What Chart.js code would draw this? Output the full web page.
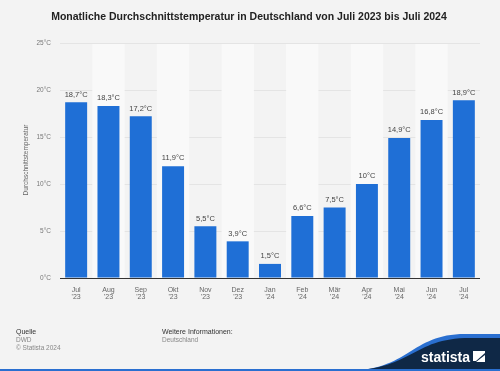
<!DOCTYPE html>
<html><head><meta charset="utf-8">
<script src="https://cdn.jsdelivr.net/npm/chart.js@4/dist/chart.umd.min.js"></script>
<style>html,body{margin:0;padding:0;background:#f3f3f3;}#wrap{width:500px;height:371px;position:relative;}</style>
</head><body><div id="wrap"><canvas id="c" width="500" height="371"></canvas></div>
<script>
const months = ["Jul","Aug","Sep","Okt","Nov","Dez","Jan","Feb","Mär","Apr","Mai","Jun","Jul"];
const years = ["'23","'23","'23","'23","'23","'23","'24","'24","'24","'24","'24","'24","'24"];
const temps = [18.7,18.3,17.2,11.9,5.5,3.9,1.5,6.6,7.5,10,14.9,16.8,18.9];
const yTicks = [0,5,10,15,20,25];
const titleText = "Monatliche Durchschnittstemperatur in Deutschland von Juli 2023 bis Juli 2024";
const yTitle = "Durchschnittstemperatur";

const FONT = "Helvetica, 'Liberation Sans', Arial, sans-serif";
const fmt = v => String(v).replace('.', ',') + '°C';

const deco = {
  id: 'deco',
  beforeDatasetsDraw(chart) {
    const {ctx, chartArea: a} = chart;
    ctx.save();
    ctx.fillStyle = '#f9f9f9';
    const w = (a.right - a.left) / months.length;
    for (let i = 1; i < months.length; i += 2) {
      ctx.fillRect(a.left + i * w, a.top + 1, w, a.bottom - a.top - 1);
    }
    ctx.restore();
  },
  afterDatasetsDraw(chart) {
    const {ctx, chartArea: a, scales: {x, y}} = chart;
    ctx.save();
    ctx.strokeStyle = '#333';
    ctx.lineWidth = 1;
    const by = Math.round(y.getPixelForValue(0)) + 0.5;
    ctx.beginPath(); ctx.moveTo(a.left, by); ctx.lineTo(a.right, by); ctx.stroke();
    ctx.fillStyle = '#444';
    ctx.font = '7.5px ' + FONT;
    ctx.textAlign = 'center';
    ctx.textBaseline = 'bottom';
    temps.forEach((v, i) => {
      ctx.fillText(fmt(v), x.getPixelForValue(i), y.getPixelForValue(v) - 4);
    });
    ctx.restore();
  },
  afterDraw(chart) {
    const {ctx} = chart;
    ctx.save();
    ctx.fillStyle = '#222';
    ctx.font = 'bold 10.5px ' + FONT;
    ctx.textAlign = 'center';
    ctx.textBaseline = 'middle';
    ctx.fillText(titleText, 249, 17);
    ctx.save();
    ctx.translate(26, 160);
    ctx.rotate(-Math.PI / 2);
    ctx.fillStyle = '#666';
    ctx.font = '6.5px ' + FONT;
    ctx.fillText(yTitle, 0, 0);
    ctx.restore();
    ctx.textAlign = 'left';
    ctx.textBaseline = 'middle';
    ctx.font = '7px ' + FONT;
    ctx.fillStyle = '#333';
    ctx.fillText('Quelle', 16, 332);
    ctx.fillText('Weitere Informationen:', 162, 332);
    ctx.fillStyle = '#888';
    ctx.font = '6.5px ' + FONT;
    ctx.fillText('DWD', 16, 340);
    ctx.fillText('© Statista 2024', 16, 348);
    ctx.fillText('Deutschland', 162, 340);
    ctx.fillStyle = '#2a6fd0';
    ctx.beginPath();
    ctx.moveTo(345, 371);
    ctx.bezierCurveTo(410, 371, 410, 334, 465, 334);
    ctx.lineTo(500, 334);
    ctx.lineTo(500, 371);
    ctx.closePath(); ctx.fill();
    ctx.fillStyle = '#0f2846';
    ctx.beginPath();
    ctx.moveTo(340, 371);
    ctx.bezierCurveTo(415, 371, 410, 338, 470, 338);
    ctx.lineTo(500, 338);
    ctx.lineTo(500, 371);
    ctx.closePath(); ctx.fill();
    ctx.fillStyle = '#2a6fd0';
    ctx.fillRect(0, 369, 500, 2);
    ctx.fillStyle = '#fff';
    ctx.font = 'bold 14px ' + FONT;
    ctx.textBaseline = 'alphabetic';
    ctx.fillText('statista', 421, 362);
    ctx.beginPath();
    ctx.moveTo(473, 351); ctx.lineTo(485, 351); ctx.lineTo(485, 353); ctx.lineTo(476, 361); ctx.lineTo(473, 361); ctx.closePath(); ctx.fill();
    ctx.beginPath();
    ctx.moveTo(485, 355); ctx.lineTo(485, 362); ctx.lineTo(476, 362); ctx.closePath(); ctx.fill();
    ctx.restore();
  }
};

new Chart(document.getElementById('c'), {
  type: 'bar',
  data: {
    labels: months.map((m, i) => [m, years[i]]),
    datasets: [{ data: temps, backgroundColor: '#1f6fd6', borderWidth: 0, barPercentage: 0.68, categoryPercentage: 1 }]
  },
  options: {
    responsive: false,
    animation: false,
    devicePixelRatio: 1,
    layout: { padding: { left: 0, right: 20, top: 43, bottom: 65 } },
    plugins: { legend: { display: false }, tooltip: { enabled: false }, title: { display: false } },
    scales: {
      x: {
        grid: { display: false },
        border: { display: false },
        ticks: { color: '#666', font: { size: 7, family: FONT, lineHeight: 1.1 }, maxRotation: 0, autoSkip: false, padding: 0 },
        afterFit(s) { s.height = 28; }
      },
      y: {
        min: 0, max: 25,
        afterBuildTicks(s) { s.ticks = yTicks.map(v => ({ value: v })); },
        grid: { color: '#e4e4e4', drawTicks: false, lineWidth: 1 },
        border: { display: false },
        ticks: { color: '#777', font: { size: 6.5, family: FONT }, padding: 9, callback: v => v + '°C' },
        afterFit(s) { s.width = 60; }
      }
    }
  },
  plugins: [deco]
});
</script></body></html>
